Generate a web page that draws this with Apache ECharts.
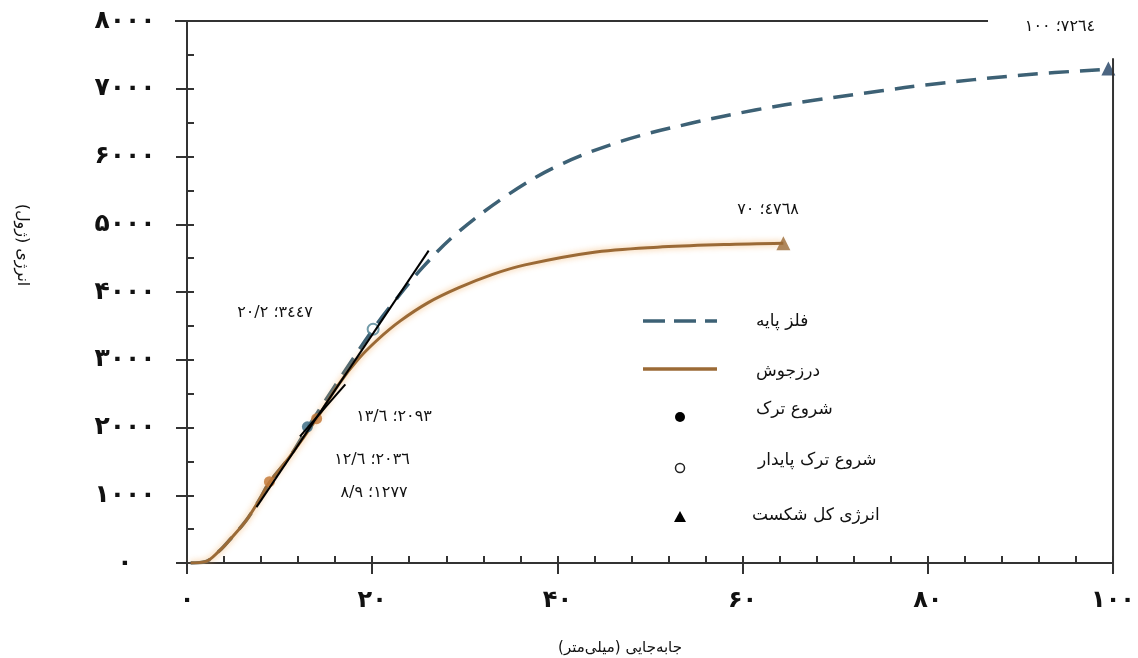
<!DOCTYPE html>
<html><head><meta charset="utf-8">
<script src="https://cdn.jsdelivr.net/npm/echarts@6/dist/echarts.min.js"></script>
<style>html,body{margin:0;padding:0;background:#fff}#c{width:1138px;height:658px}</style>
</head><body><div id="c"></div>
<script>
// ---- data ----
const xTickLabels = {0:'۰',20:'۲۰',40:'۴۰',60:'۶۰',80:'۸۰',100:'۱۰۰'};
const yTickLabels = {0:'۰',1000:'۱۰۰۰',2000:'۲۰۰۰',3000:'۳۰۰۰',4000:'۴۰۰۰',5000:'۵۰۰۰',6000:'۶۰۰۰',7000:'۷۰۰۰',8000:'۸۰۰۰'};
const seriesNames = ['فلز پایه','درزجوش','شروع ترک','شروع ترک پایدار','انرژی کل شکست'];
const baseMetalCurve = [[0.4,0],[2,20],[3.5,180],[4.6,340],[6.4,630],[7.8,930],[8.9,1190],[11.1,1570],[13.0,1990],[16.5,2720],[20.1,3450],[22.5,3880],[25.5,4370],[29,4850],[34.7,5440],[40,5860],[47,6230],[54.4,6490],[61.5,6690],[67.7,6830],[75,6970],[80,7060],[90,7200],[99.5,7290]];
const weldCurve = [[0.4,0],[2,20],[3.5,180],[4.6,340],[6.4,630],[7.8,930],[8.9,1190],[11.1,1570],[14,2130],[16.4,2640],[18.5,3010],[20.7,3310],[23,3570],[26,3840],[29.3,4060],[33,4260],[36.5,4400],[43.6,4580],[50.8,4660],[58,4700],[64.4,4720]];
const crackStartWeld = [[8.9,1200],[14.0,2130]];
const crackStartBase = [[13.0,2010]];
const stableCrackBase = [[20.1,3450]];
const fractureBase = [[99.5,7300]];
const fractureWeld = [[64.4,4720]];
const tangentLine = [[7.5,825],[26.1,4610]];
const tangentSegment = [[12.2,1870],[17.1,2636]];
const annotationTexts = ['۱۰۰ ؛۷۲٦٤','۷۰ ؛٤۷٦۸','۲۰/۲ ؛۳٤٤۷','۱۳/٦ ؛۲۰۹۳','۱۲/٦ ؛۲۰۳٦','۸/۹ ؛۱۲۷۷'];
const xAxisName = 'جابه\u200cجایی (میلی\u200cمتر)';
const yAxisName = 'انرژی (ژول)';

// ---- chart ----
const FONT = '"DejaVu Sans", sans-serif';
const BLUE = '#3d6175', BROWN = '#9b6a36', AX = '#333';
const chart = echarts.init(document.getElementById('c'), null, {renderer:'canvas'});
const gridL = 187, gridT = 21, gridR = 21, gridB = 95;
chart.setOption({
  animation:false,
  backgroundColor:'#fff',
  grid:{left:gridL, top:gridT, right:gridR, bottom:gridB, containLabel:false},
  xAxis:[{
    type:'value', min:0, max:100, interval:20, position:'bottom',
    axisLine:{show:true, lineStyle:{color:AX, width:2}},
    axisTick:{show:true, inside:false, length:11, lineStyle:{color:AX, width:2}},
    axisLabel:{margin:26, fontFamily:FONT, fontWeight:'bold', fontSize:24, color:'#111',
      formatter:v=>xTickLabels[v] ?? ''},
    splitLine:{show:false}
  },{
    type:'value', min:0, max:100, interval:4, position:'bottom',
    axisLine:{show:false},
    axisTick:{show:true, inside:true, length:7, lineStyle:{color:AX, width:2}},
    axisLabel:{show:false}, splitLine:{show:false}
  }],
  yAxis:[{
    type:'value', min:0, max:8000, interval:1000, position:'left',
    axisLine:{show:true, lineStyle:{color:AX, width:2}},
    axisTick:{show:true, inside:false, length:11, lineStyle:{color:AX, width:2}},
    axisLabel:{margin:62, align:'center', fontFamily:FONT, fontWeight:'bold', fontSize:25, color:'#111',
      formatter:v=>yTickLabels[v] ?? ''},
    splitLine:{show:false}
  },{
    type:'value', min:0, max:8000, interval:500, position:'left',
    axisLine:{show:false},
    axisTick:{show:true, inside:true, length:7, lineStyle:{color:AX, width:2}},
    axisLabel:{show:false}, splitLine:{show:false}
  }],
  series:[
    {name:seriesNames[0], type:'line', data:baseMetalCurve, smooth:0.35, showSymbol:false, z:2,
      lineStyle:{color:BLUE, width:3.5, type:[20,11]}},
    {name:seriesNames[1], type:'line', data:weldCurve, smooth:0.35, showSymbol:false, z:3,
      lineStyle:{color:BROWN, width:3, shadowColor:'rgba(240,170,90,0.8)', shadowBlur:6}},
    {type:'line', data:tangentLine, showSymbol:false, z:5, lineStyle:{color:'#000', width:2}},
    {type:'line', data:tangentSegment, showSymbol:false, z:5, lineStyle:{color:'#000', width:2}},
    {name:seriesNames[2], type:'scatter', data:crackStartWeld, symbol:'circle', symbolSize:11, z:4,
      itemStyle:{color:'#c47b3c', opacity:0.85}},
    {name:seriesNames[2], type:'scatter', data:crackStartBase, symbol:'circle', symbolSize:11, z:4,
      itemStyle:{color:'#3f6f86', opacity:0.85}},
    {name:seriesNames[3], type:'scatter', data:stableCrackBase, symbol:'circle', symbolSize:11, z:4,
      itemStyle:{color:'rgba(255,255,255,0.3)', borderColor:'#4f8294', borderWidth:2}},
    {name:seriesNames[4], type:'scatter', data:fractureBase, symbol:'triangle', symbolSize:14, z:4,
      itemStyle:{color:'#1f3f62'}},
    {name:seriesNames[4], type:'scatter', data:fractureWeld, symbol:'triangle', symbolSize:14, z:4,
      itemStyle:{color:BROWN}}
  ]
});

// ---- decorations (frame, legend, annotations, axis names) ----
const px = (x,y)=>chart.convertToPixel({gridIndex:0}, [x,y]);
const p0 = px(0,0), pTop = px(0,8000), pR = px(100,0);
const g = [];
const line = (x1,y1,x2,y2,stroke,w,dash)=>g.push({type:'line', z:10, shape:{x1,y1,x2,y2}, style:{stroke, lineWidth:w, lineDash:dash||null}});
line(p0[0]-12, pTop[1], px(86.5,0)[0], pTop[1], AX, 2);
line(pR[0], px(0,7450)[1], pR[0], p0[1]+10, AX, 2);
line(p0[0], p0[1], p0[0], p0[1]+10, AX, 2);
line(p0[0]-10, p0[1], p0[0], p0[1], AX, 2);

const txt = (text,x,y,opt)=>g.push(Object.assign({type:'text', z:10, x, y,
  style:Object.assign({text, fill:'#111', font:'17px '+FONT, align:'left', verticalAlign:'middle'}, opt||{})}));
line(643,321,717,321,BLUE,3.5,[22,9]);
line(643,369,717,369,BROWN,3.5);
g.push({type:'circle', z:10, shape:{cx:680, cy:417, r:5}, style:{fill:'#000'}});
g.push({type:'circle', z:10, shape:{cx:680, cy:468, r:4.5}, style:{fill:'#fff', stroke:'#222', lineWidth:1.5}});
g.push({type:'polygon', z:10, shape:{points:[[674,522],[686,522],[680,511]]}, style:{fill:'#000'}});
txt(seriesNames[0], 756, 322);
txt(seriesNames[1], 756, 372);
txt(seriesNames[2], 756, 410);
txt(seriesNames[3], 758, 461);
txt(seriesNames[4], 752, 516);

const LRO='\u202D', PDF='\u202C';
const annPos = [[1060,27],[768,210],[275,313],[394,417],[372,460],[374,493]];
annotationTexts.forEach((t,i)=>txt(LRO+t+PDF, annPos[i][0], annPos[i][1], {align:'center', font:'16px '+FONT}));

const RLM='\u200F';
txt(RLM+xAxisName+RLM, 620, 648, {align:'center', font:'15px '+FONT});
g.push({type:'text', z:10, x:22, y:245, rotation:-Math.PI/2,
  style:{text:RLM+yAxisName+RLM, fill:'#111', font:'16px '+FONT, align:'center', verticalAlign:'middle'}});

chart.setOption({graphic:{elements:g}});
</script></body></html>
